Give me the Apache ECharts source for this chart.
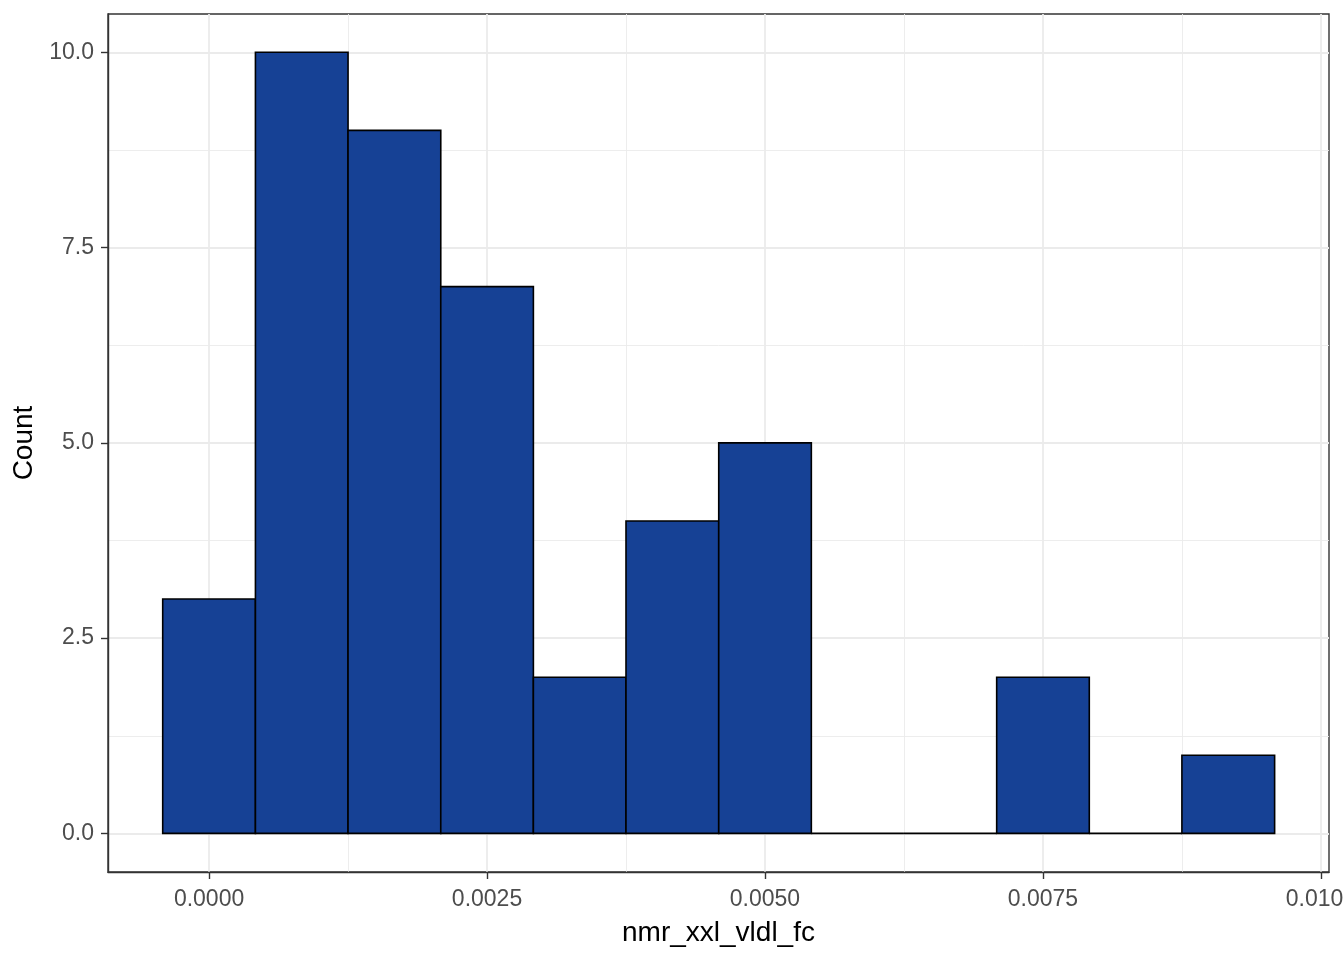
<!DOCTYPE html>
<html>
<head>
<meta charset="utf-8">
<script src="https://cdn.jsdelivr.net/npm/echarts@6/dist/echarts.min.js"></script>
<style>
html,body{margin:0;padding:0;background:#fff;}
#chart{width:1344px;height:960px;}
</style>
</head>
<body>
<div id="chart"></div>
<script>
// Histogram bin edges and counts
const binEdges = [-0.000417, 0.000417, 0.00125, 0.002084, 0.002917, 0.00375, 0.004584, 0.005417, 0.00625, 0.007084, 0.007917, 0.00875, 0.009584];
const counts = [3, 10, 9, 7, 2, 4, 5, 0, 0, 2, 0, 1];
const xTicks = [0, 0.0025, 0.005, 0.0075, 0.01];
const xMinor = [0.00125, 0.00375, 0.00625, 0.00875];
const yTicks = [0, 2.5, 5, 7.5, 10];
const yMinor = [1.25, 3.75, 6.25, 8.75];
const xTitle = 'nmr_xxl_vldl_fc';
const yTitle = 'Count';

const barData = counts.map((c, i) => [binEdges[i], binEdges[i + 1], c]);

const xMin = -0.000909, xMax = 0.010073;
const yMin = -0.494, yMax = 10.49;
const font = 'Liberation Sans, Arial, sans-serif';

const chart = echarts.init(document.getElementById('chart'), null, {renderer: 'canvas'});
chart.setOption({
  animation: false,
  backgroundColor: '#ffffff',
  grid: {
    left: 108, right: 15, top: 14, bottom: 88,
    containLabel: false,
    outerBoundsMode: 'none',
    show: true,
    borderColor: '#333333',
    borderWidth: 1.4,
    backgroundColor: 'transparent'
  },
  xAxis: [{
    type: 'value', min: xMin, max: xMax,
    name: xTitle, nameLocation: 'middle', nameGap: 47,
    nameTextStyle: {fontSize: 28, color: '#000000', fontFamily: font},
    axisLine: {show: true, onZero: false, lineStyle: {color: '#333333', width: 1.4}},
    axisTick: {show: true, inside: false, length: 7, lineStyle: {color: '#333333', width: 1.4}, customValues: xTicks},
    axisLabel: {show: true, customValues: xTicks, margin: 16, fontSize: 23, color: '#4D4D4D', fontFamily: font,
      formatter: v => Number(v).toFixed(4), showMinLabel: true, showMaxLabel: true, hideOverlap: false},
    splitLine: {show: true, lineStyle: {color: '#EBEBEB', width: 1.8}},
    minorTick: {show: false}, minorSplitLine: {show: false}
  }, {
    type: 'value', min: xMin, max: xMax, gridIndex: 0, position: 'bottom',
    axisLine: {show: false, onZero: false},
    axisTick: {show: false, customValues: xMinor},
    axisLabel: {show: false, customValues: xMinor},
    splitLine: {show: true, lineStyle: {color: '#EBEBEB', width: 0.9}}
  }],
  yAxis: [{
    type: 'value', min: yMin, max: yMax,
    name: yTitle, nameLocation: 'middle', nameGap: 61,
    nameTextStyle: {fontSize: 28, color: '#000000', fontFamily: font},
    axisLine: {show: true, onZero: false, lineStyle: {color: '#333333', width: 1.4}},
    axisTick: {show: true, inside: false, length: 7, lineStyle: {color: '#333333', width: 1.4}, customValues: yTicks},
    axisLabel: {show: true, customValues: yTicks, margin: 14, fontSize: 23, color: '#4D4D4D', fontFamily: font,
      formatter: v => Number(v).toFixed(1)},
    splitLine: {show: true, lineStyle: {color: '#EBEBEB', width: 1.8}}
  }, {
    type: 'value', min: yMin, max: yMax, gridIndex: 0, position: 'left',
    axisLine: {show: false, onZero: false},
    axisTick: {show: false, customValues: yMinor},
    axisLabel: {show: false, customValues: yMinor},
    splitLine: {show: true, lineStyle: {color: '#EBEBEB', width: 0.9}}
  }],
  series: [{
    type: 'custom',
    xAxisIndex: 0, yAxisIndex: 0,
    data: barData,
    encode: {x: [0, 1], y: 2},
    clip: false,
    renderItem: function (params, api) {
      const p0 = api.coord([api.value(0), api.value(2)]);
      const p1 = api.coord([api.value(1), 0]);
      return {
        type: 'rect',
        shape: {x: p0[0], y: p0[1], width: p1[0] - p0[0], height: p1[1] - p0[1]},
        style: {fill: '#164195', stroke: '#000000', lineWidth: 1.6}
      };
    }
  }]
});
</script>
</body>
</html>
